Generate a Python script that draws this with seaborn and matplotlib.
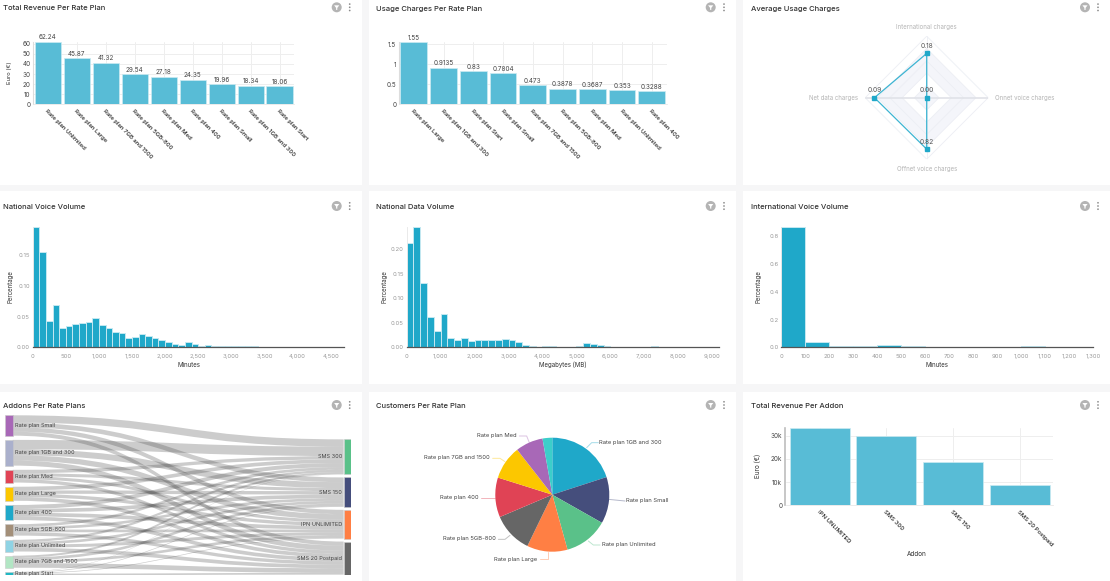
import numpy as np
import matplotlib
matplotlib.use("Agg")
import matplotlib.pyplot as plt
from matplotlib.patches import PathPatch, Rectangle, Circle, Polygon
from matplotlib.path import Path
from matplotlib.ticker import FuncFormatter
import seaborn as sns

W, H = 1110, 581
sns.set_theme(style="white")
plt.rcParams['font.family'] = ['Inter', 'DejaVu Sans']

# ---------- data ----------
rev_plans = ["Rate plan Unlimited", "Rate plan Large", "Rate plan 7GB and 1500", "Rate plan 5GB-800",
             "Rate plan Med", "Rate plan 400", "Rate plan Small", "Rate plan 1GB and 300", "Rate plan Start"]
rev_values = [62.24, 45.87, 41.32, 29.54, 27.18, 24.35, 19.96, 18.34, 18.06]

usage_plans = ["Rate plan Large", "Rate plan 1GB and 300", "Rate plan Start", "Rate plan Small",
               "Rate plan 7GB and 1500", "Rate plan 5GB-800", "Rate plan Med", "Rate plan Unlimited", "Rate plan 400"]
usage_values = [1.55, 0.9135, 0.83, 0.7804, 0.473, 0.3878, 0.3687, 0.353, 0.3288]

radar_names = ["International charges", "Onnet voice charges", "Offnet voice charges", "Net data charges"]
radar_values = [0.18, 0.00, 0.82, 0.09]
radar_max = [0.25, 1.0, 0.98, 0.106]

voice_pct = [.196, .1555, .0434, .0683, .032, .0347, .0374, .039, .0412, .0472, .0358, .0309, .0249, .0238,
             .0157, .0168, .0217, .0184, .0157, .0125, .0081, .0054, .0038, .0081, .0054, .0027, .0033, .0022,
             .0022, .0016, .0022, .0022, .0016, .0016, .0005, .0004, .0003, .0003, .0003, .0002, .0002, .0002,
             .0002, .0002, .0002, .0002, .0002]
data_pct = [.212, .246, .132, .0626, .0326, .068, .0184, .0143, .0184, .0129, .015, .015, .015, .0156, .0163,
            .0143, .0109, .0054, .0027, .0014, .002, .0027, .0014, .001, .0007, .0027, .0082, .0061, .0041,
            .002, .0012, .0007, .0007, .0007, .0007, .0007, .002, .0014, .0014, .0007, .0007, .0005, .0005,
            .0005, .0005, .0005]
intl_pct = [.869, .038, .0096, .0096, .017, .0096, .001, .001, .001, .001, .0096, .003, .001]
voice_bin, data_bin, intl_bin = 100, 200, 100

left_nodes = ["Rate plan Small", "Rate plan 1GB and 300", "Rate plan Med", "Rate plan Large", "Rate plan 400",
              "Rate plan 5GB-800", "Rate plan Unlimited", "Rate plan 7GB and 1500", "Rate plan Start"]
right_nodes = ["SMS 300", "SMS 150", "IPN UNLIMITED", "SMS 20 Postpaid"]
flows = [[22, 14, 13, 12], [28, 18, 16, 15], [10, 9, 9, 10], [11, 10, 10, 11], [12, 11, 11, 11],
         [8, 8, 8, 10], [7, 8, 9, 11], [6, 8, 8, 14], [1, 2, 2, 5]]
left_colors = ["#a868b7", "#aab0cc", "#e04355", "#fcc700", "#1fa8c9", "#a38f79", "#8fd3e4", "#b2e6c4", "#20b8c4"]
right_colors = ["#5ac189", "#454e7c", "#ff7f44", "#666666"]

pie_names = ["Rate plan 1GB and 300", "Rate plan Small", "Rate plan Unlimited", "Rate plan Large",
             "Rate plan 5GB-800", "Rate plan 400", "Rate plan 7GB and 1500", "Rate plan Med", "Rate plan Start"]
pie_values = [20, 13.2, 12.5, 11.5, 11.4, 11.25, 9.6, 7.8, 2.75]
pie_colors = ["#1fa8c9", "#454e7c", "#5ac189", "#ff7f44", "#666666", "#e04355", "#fcc700", "#a868b7", "#3cceca"]

addons = ["IPN UNLIMITED", "SMS 300", "SMS 150", "SMS 20 Postpaid"]
addon_rev = [33400, 30100, 18650, 8900]

titles = [["Total Revenue Per Rate Plan", "Usage Charges Per Rate Plan", "Average Usage Charges"],
          ["National Voice Volume", "National Data Volume", "International Voice Volume"],
          ["Addons Per Rate Plans", "Customers Per Rate Plan", "Total Revenue Per Addon"]]

# ---------- layout ----------
BAR = "#58bcd6"
HIST = "#1fa8c9"
GRID = "#eeeeee"
TXT = "#333333"
MUTE = "#9a9a9a"

fig = plt.figure(figsize=(W / 100, H / 100), dpi=100, facecolor="#f6f6f7")


def add_ax(x0, y0, x1, y1, **kw):
    ax = fig.add_axes([x0 / W, 1 - y1 / H, (x1 - x0) / W, (y1 - y0) / H], **kw)
    ax.patch.set_alpha(0)
    return ax


bg = add_ax(0, 0, W, H, zorder=0)
bg.set_xlim(0, W); bg.set_ylim(H, 0); bg.axis("off")
fg = add_ax(0, 0, W, H, zorder=5)
fg.set_xlim(0, W); fg.set_ylim(H, 0); fg.axis("off")

col_x = [(0, 362), (369, 736), (743, 1110)]
row_y = [(0, 185), (191, 384), (392, 581)]
for cx in col_x:
    for cy in row_y:
        bg.add_patch(Rectangle((cx[0], cy[0]), cx[1] - cx[0], cy[1] - cy[0], fc="white", ec="none"))

title_x = [3, 376, 751]
title_y = [8.5, 207, 405.5]
icon_x = [(336.7, 349.7), (710.7, 724), (1085, 1098)]
icon_y = [7.3, 206, 405]
for r in range(3):
    for c in range(3):
        fg.text(title_x[c], title_y[r], titles[r][c], fontsize=5.5, color=TXT, va="center", ha="left",
                fontweight="medium")
        ix, dx = icon_x[c]
        iy = icon_y[r]
        fg.add_patch(Circle((ix, iy), 5, fc="#b4b4b4", ec="none"))
        fg.add_patch(Polygon([(ix - 2.6, iy - 2), (ix + 2.6, iy - 2), (ix + .6, iy + .6), (ix + .6, iy + 2.6),
                              (ix - .6, iy + 2.6), (ix - .6, iy + .6)], fc="white", ec="none"))
        for d in (-3.2, 0, 3.2):
            fg.add_patch(Circle((dx, iy + d), .85, fc="#8a8a8a", ec="none"))


def style_common(ax, tick_color, size):
    for s in ("top", "right"):
        ax.spines[s].set_visible(False)
    ax.tick_params(axis="both", length=0, labelsize=size, labelcolor=tick_color, pad=2)


def label_coords(ax, xlabel=None, xpos=None, ylabel=None, ypos=None, size=4.6, color=TXT):
    if xlabel:
        ax.set_xlabel(xlabel, fontsize=size, color=color)
        ax.xaxis.set_label_coords(xpos[0], xpos[1], transform=fg.transData)
        ax.xaxis.label.set_va("center")
    if ylabel:
        ax.set_ylabel(ylabel, fontsize=size, color=color)
        ax.yaxis.set_label_coords(ypos[0], ypos[1], transform=fg.transData)
        ax.yaxis.label.set_va("center")


def bar_panel(box, names, vals, ylim, yticks, yfmt, show_labels=True, lab=4.3):
    ax = add_ax(*box, zorder=2)
    sns.barplot(x=names, y=vals, color=BAR, saturation=1, width=0.9, ax=ax, edgecolor="#cbeaf2", linewidth=.5,
                zorder=3)
    ax.set_xlim(-.5, len(names) - .5)
    ax.set_ylim(*ylim)
    ax.set_yticks(yticks)
    ax.yaxis.set_major_formatter(yfmt)
    ax.grid(True, color=GRID, lw=.7, zorder=0)
    ax.set_axisbelow(True)
    style_common(ax, "#444444", 4.6)
    ax.spines["left"].set_color("#dddddd")
    ax.spines["bottom"].set_color("#e8e8e8")
    ax.spines["left"].set_linewidth(.8)
    ax.spines["bottom"].set_linewidth(.6)
    ax.set_xticks(range(len(names)))
    ax.set_xticklabels(names, rotation=-45, ha="left", va="top", rotation_mode="anchor", fontsize=lab,
                       color="#222222", fontweight="medium")
    ax.tick_params(axis="x", pad=3)
    ax.set_xlabel(""); ax.set_ylabel("")
    if show_labels:
        for t in ax.bar_label(ax.containers[0], fmt="%g", fontsize=4.6, color="#444444", padding=1):
            t.set_clip_on(False)
    return ax


# Panel 1
ax1 = bar_panel((33.3, 41.5, 294, 104.3), rev_plans, rev_values, (0, 62.24), range(0, 61, 10),
                FuncFormatter(lambda v, p: f"{v:g}"))
label_coords(ax1, ylabel="Euro (€)", ypos=(10, 73), size=4.2)

# Panel 2
ax2 = bar_panel((399, 42, 666.7, 104.3), usage_plans, usage_values, (0, 1.55), [0, .5, 1, 1.5],
                FuncFormatter(lambda v, p: f"{v:g}"))

# Panel 3: radar
rad = add_ax(865.2, 36.2, 988.2, 159.2, projection="polar", zorder=2)
th = np.array([np.pi / 2, 0, -np.pi / 2, np.pi])
th_c = np.r_[th, th[0]]
rad.set_ylim(0, 1)
rad.axis("off")
for r_, col in ((.8, "#f4f5fa"), (.4, "white"), (.2, "#f4f5fa")):
    rad.fill(th_c, [r_] * 5, color=col, lw=0, zorder=1)
for r_ in (.2, .4, .6, .8, 1):
    rad.plot(th_c, [r_] * 5, color="#eceef4", lw=.6, zorder=2)
for t, col, lw in zip(th, ("#eceef4", "#e0e2e8", "#eceef4", "#e0e2e8"), (.6, 1.2, .6, 1.2)):
    rad.plot([t, t], [0, 1], color=col, lw=lw, zorder=2)
norm = np.array(radar_values) / np.array(radar_max)
rad.plot(th_c, np.r_[norm, norm[0]], color="#3cb4d2", lw=.9, zorder=4, clip_on=False)
rad.plot(th, norm, ls="", marker="s", ms=2.4, color=HIST, zorder=5, clip_on=False)
for t, n, v in zip(th, norm, radar_values):
    rad.annotate(f"{v:.2f}", (t, n), xytext=(0, 5.3), textcoords="offset points", ha="center", va="center",
                 fontsize=4.8, color="#555555", annotation_clip=False, zorder=6)
rad_pos = [(926.7, 26.7, "center"), (995, 97.7, "left"), (926.7, 169.5, "center"), (858, 97.7, "right")]
for name, (x, y, ha) in zip(radar_names, rad_pos):
    fg.text(x, y, name, fontsize=4.4, color="#b5b5b5", ha=ha, va="center")


def hist_panel(box, pct, bin_w, xlim, ylim, xticks, yticks, yf, xlabel, xpos, ylabel_x):
    ax = add_ax(*box, zorder=2)
    edges = np.arange(len(pct) + 1) * bin_w
    centers = edges[:-1] + bin_w / 2
    sns.histplot(x=centers, weights=pct, bins=edges.tolist(), color=HIST, alpha=1, edgecolor="#c4e8f1",
                 linewidth=.7, ax=ax)
    ax.set_xlim(*xlim); ax.set_ylim(*ylim)
    ax.set_xticks(xticks)
    ax.xaxis.set_major_formatter(FuncFormatter(lambda v, p: f"{int(v):,}"))
    ax.set_yticks(yticks)
    ax.yaxis.set_major_formatter(FuncFormatter(lambda v, p: format(v, yf)))
    style_common(ax, MUTE, 4.3)
    ax.tick_params(axis="x", length=1.5, color="#cccccc", pad=3)
    ax.spines["left"].set_color("#e6e6e6")
    ax.spines["left"].set_linewidth(.6)
    ax.spines["bottom"].set_color("#555555")
    ax.spines["bottom"].set_linewidth(.9)
    ax.set_ylabel("")
    label_coords(ax, xlabel=xlabel, xpos=xpos, ylabel="Percentage", ypos=(ylabel_x, 287), size=4.4)
    return ax


hist_panel((32.7, 226.7, 344.3, 347.3), voice_pct, voice_bin, (0, 4707), (0, .196), range(0, 4501, 500),
           [0, .05, .10, .15], ".2f", "Minutes", (188.7, 365), 10)
hist_panel((406.7, 226.7, 719, 347.3), data_pct, data_bin, (0, 9200), (0, .246), range(0, 9001, 1000),
           [0, .05, .10, .15, .20], ".2f", "Megabytes (MB)", (563, 365), 384)
hist_panel((781.3, 226.7, 1093, 347.3), intl_pct, intl_bin, (0, 1300), (0, .869), range(0, 1301, 100),
           [0, .2, .4, .6, .8], ".1f", "Minutes", (937, 365), 758)

# Panel 7: sankey
sk = add_ax(5, 415.3, 351, 575.3, zorder=2)
sk.set_xlim(0, 1037); sk.set_ylim(479, 0); sk.axis("off")
F = np.array(flows, float)
l_sum, r_sum = F.sum(1), F.sum(0)
l_gap = (479 - l_sum.sum()) / (len(left_nodes) - 1)
r_start, r_gap = 72, 9
l_top = np.r_[0, np.cumsum(l_sum[:-1] + l_gap)]
r_top = r_start + np.r_[0, np.cumsum(r_sum[:-1] + r_gap)]
node_w = 23
xa, xb = node_w, 1037 - 22
lc = l_top.copy()
rc = r_top.copy()
for i in range(F.shape[0]):
    for j in range(F.shape[1]):
        h = F[i, j]
        y0, y1 = lc[i], rc[j]
        xm = (xa + xb) / 2
        verts = [(xa, y0), (xm, y0), (xm, y1), (xb, y1), (xb, y1 + h), (xm, y1 + h), (xm, y0 + h), (xa, y0 + h),
                 (xa, y0)]
        codes = [Path.MOVETO, Path.CURVE4, Path.CURVE4, Path.CURVE4, Path.LINETO, Path.CURVE4, Path.CURVE4,
                 Path.CURVE4, Path.CLOSEPOLY]
        sk.add_patch(PathPatch(Path(verts, codes), fc="#444444", ec="none", alpha=.27, zorder=1))
        lc[i] += h
        rc[j] += h
for name, top, h, col in zip(left_nodes, l_top, l_sum, left_colors):
    sk.add_patch(Rectangle((0, top), node_w, h, fc=col, ec="#c9c9c9", lw=.4, zorder=3))
    sk.text(30, top + h / 2, name, fontsize=4, color="#444444", va="center", ha="left", zorder=4, clip_on=False)
for name, top, h, col in zip(right_nodes, r_top, r_sum, right_colors):
    sk.add_patch(Rectangle((xb, top), 22, h, fc=col, ec="#c9c9c9", lw=.4, zorder=3))
    sk.text(xb - 5, top + h / 2, name, fontsize=4, color="#444444", va="center", ha="right", zorder=4)

# Panel 8: pie
pie_ax = add_ax(552.3 - 57, 494.7 - 57, 552.3 + 57, 494.7 + 57, zorder=2)
pie_ax.pie(pie_values, colors=pie_colors, startangle=90, counterclock=False, radius=1.0,
           wedgeprops=dict(linewidth=0))
pie_ax.set_xlim(-1, 1); pie_ax.set_ylim(-1, 1)
leaders = [[(650, 170), (665, 155), (685, 155)], [(715, 325), (765, 330)], [(655, 450), (670, 462), (690, 462)],
           [(533, 482), (533, 503), (510, 503)], [(420, 433), (405, 445), (385, 445)], [(375, 320), (332, 320)],
           [(405, 212), (390, 202), (368, 202)], [(478, 155), (470, 135), (448, 135)]]
label_pos = [(688, 155, "left"), (768, 329, "left"), (695, 461, "left"), (500, 505, "right"), (378, 443, "right"),
             (326, 319, "right"), (360, 200, "right"), (440, 135, "right")]
for name, col, pts, (lx, ly, ha) in zip(pie_names, pie_colors, leaders, label_pos):
    xs = [370 + p[0] / 3 for p in pts]
    ys = [391 + p[1] / 3 for p in pts]
    fg.plot(xs, ys, color=col, lw=.7, alpha=.4)
    fg.text(370 + lx / 3, 391 + ly / 3, name, fontsize=4.2, color="#444444", ha=ha, va="center")

# Panel 9
ax9 = bar_panel((786.3, 435.7 - 7.8, 1053, 505.3), addons, addon_rev, (0, 33400), [0, 10000, 20000, 30000],
                FuncFormatter(lambda v, p: "0" if v == 0 else f"{int(v / 1000)}k"), show_labels=False)
ax9.spines["left"].set_color("#bdbdbd")
ax9.spines["left"].set_linewidth(1.2)
ax9.spines["left"].set_position(("outward", 1))
label_coords(ax9, xlabel="Addon", xpos=(917, 554), ylabel="Euro (€)", ypos=(758, 466), size=4.6)

fig.savefig("out.png", dpi=100)
